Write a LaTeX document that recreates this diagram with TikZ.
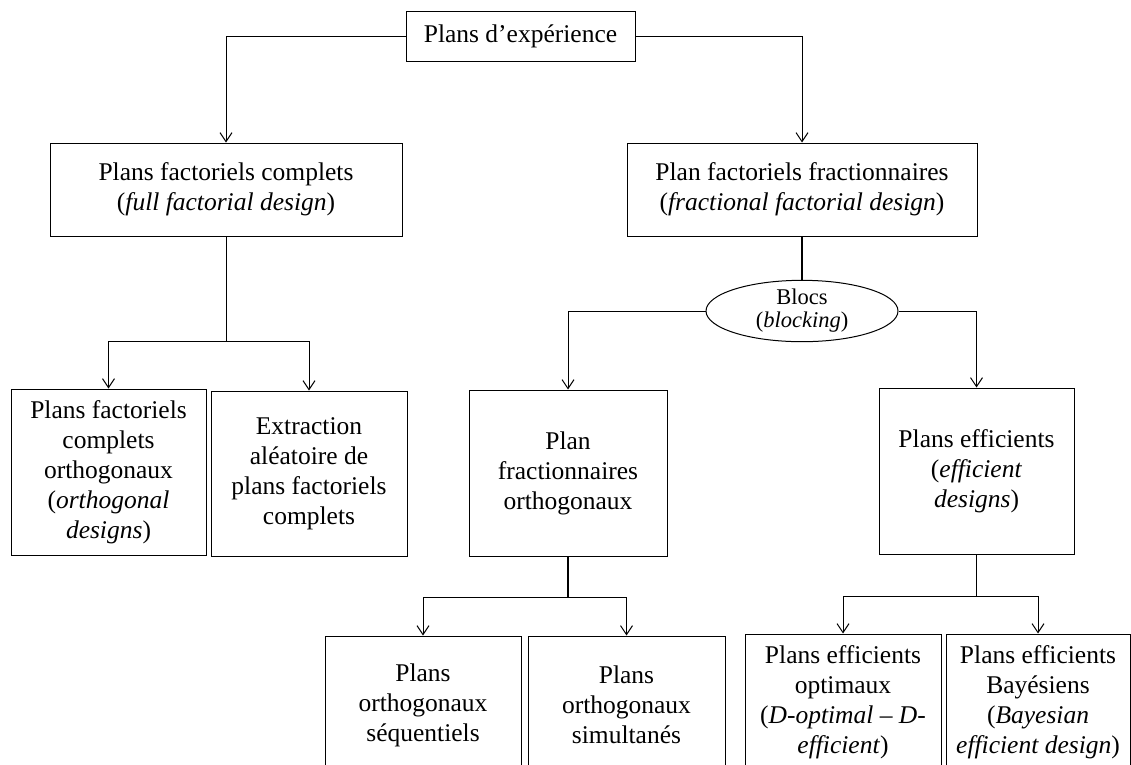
\documentclass[tikz,border=0pt]{standalone}
\usepackage{fontspec}
\setmainfont{Liberation Serif}
\usetikzlibrary{arrows.meta,shapes.geometric}
\begin{document}
\begin{tikzpicture}[x=1pt,y=-1pt,
  box/.style={draw, line width=1pt, align=center, inner sep=0pt, font=\fontsize{25.5}{30}\selectfont},
  ln/.style={line width=1pt},
  thk/.style={line width=2pt},
  arr/.style={line width=1pt, -{Straight Barb[length=9pt,width=12pt]}}]
\useasboundingbox (0,0) rectangle (1131,764);

\node[box, minimum width=229pt, minimum height=50pt] (top) at (520.5,36) {Plans d’expérience};
\node[box, minimum width=352pt, minimum height=93pt] (A) at (226,189.5) {Plans factoriels complets\\(\textit{full factorial design})};
\node[box, minimum width=350pt, minimum height=93pt] (B) at (802,189.5) {Plan factoriels fractionnaires\\(\textit{fractional factorial design})};

\node[box, minimum width=195pt, minimum height=166pt] (A1) at (108.5,472) {Plans factoriels\\complets\\orthogonaux\\(\textit{orthogonal}\\\textit{designs})};
\node[box, minimum width=196pt, minimum height=165pt] (A2) at (309,473.5) {Extraction\\aléatoire de\\plans factoriels\\complets};

\node[draw, ellipse, line width=1pt, inner sep=0pt, minimum width=192pt, minimum height=54pt, align=center, font=\fontsize{22.5}{23}\selectfont] (E) at (802,311) {Blocs\\(\textit{blocking})};

\node[box, minimum width=198pt, minimum height=166pt] (B1) at (568,473) {Plan\\fractionnaires\\orthogonaux};
\node[box, minimum width=195pt, minimum height=166pt] (B2) at (976.5,471) {Plans efficients\\(\textit{efficient}\\\textit{designs})};

\node[box, minimum width=196pt, minimum height=138pt] (B11) at (423,705) {Plans\\orthogonaux\\séquentiels};
\node[box, minimum width=197pt, minimum height=138pt] (B12) at (626.5,705) {Plans\\orthogonaux\\simultanés};
\node[box, minimum width=196pt, minimum height=136pt] (B21) at (843,702) {Plans efficients\\optimaux\\(\textit{D-optimal – D-}\\\textit{efficient})};
\node[box, minimum width=184pt, minimum height=136pt] (B22) at (1038,702) {Plans efficients\\Bayésiens\\(\textit{Bayesian}\\\textit{efficient design})};

\coordinate (ja) at (226,341);
\coordinate (jb) at (568,597);
\coordinate (jc) at (976.5,596);

\draw[arr] (top.west) -| (A.north);
\draw[arr] (top.east) -| (B.north);

\draw[ln] (A.south) -- (ja);
\draw[arr] (ja) -| (A1.north);
\draw[arr] (ja) -| (A2.north);

\draw[thk] (B.south) -- (E.north);
\draw[arr] (E.west) -| (B1.north);
\draw[arr] (E.east) -| (B2.north);

\draw[thk] (B1.south) -- (jb);
\draw[arr] (jb) -| (B11.north);
\draw[arr] (jb) -| (B12.north);

\draw[ln] (B2.south) -- (jc);
\draw[arr] (jc) -| (B21.north);
\draw[arr] (jc) -| (B22.north);
\end{tikzpicture}
\end{document}
